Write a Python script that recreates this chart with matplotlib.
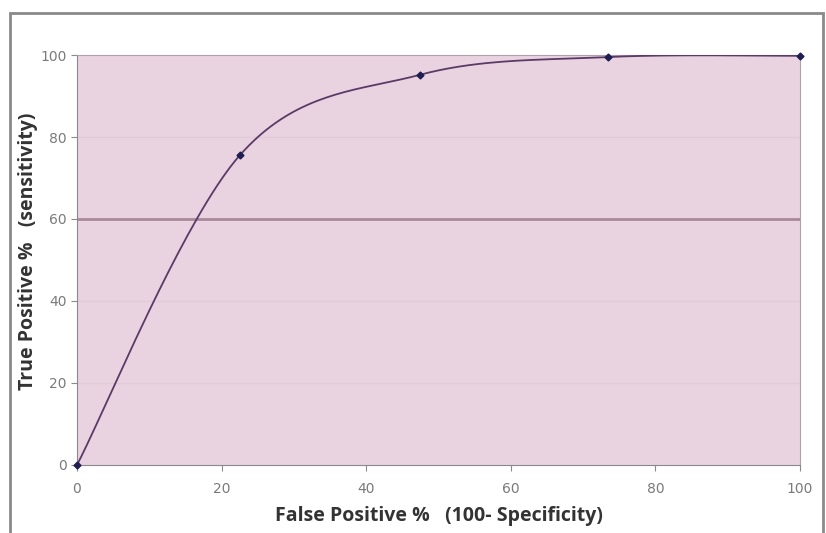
import numpy as np
import matplotlib
matplotlib.use('Agg')
import matplotlib.pyplot as plt
from matplotlib.patches import Rectangle

# ROC points
fp_rate = [0, 22.5, 47.5, 73.5, 100]
tp_rate = [0, 75.5, 95.2, 99.5, 99.8]
x_ticks = [0, 20, 40, 60, 80, 100]
y_ticks = [0, 20, 40, 60, 80, 100]


def smooth(xs, ys, n=40):
    # Excel-like smoothed line: cubic bezier with catmull-rom control points
    xs = np.asarray(xs, float)
    ys = np.asarray(ys, float)
    px = np.concatenate([[xs[0]], xs, [xs[-1]]])
    py = np.concatenate([[ys[0]], ys, [ys[-1]]])
    out_x, out_y = [], []
    t = np.linspace(0, 1, n)
    for i in range(1, len(px) - 2):
        p0 = np.array([px[i], py[i]])
        p3 = np.array([px[i + 1], py[i + 1]])
        c1 = p0 + (np.array([px[i + 1], py[i + 1]]) - np.array([px[i - 1], py[i - 1]])) / 6
        c2 = p3 - (np.array([px[i + 2], py[i + 2]]) - np.array([px[i], py[i]])) / 6
        b = ((1 - t) ** 3)[:, None] * p0 + (3 * (1 - t) ** 2 * t)[:, None] * c1 \
            + (3 * (1 - t) * t ** 2)[:, None] * c2 + (t ** 3)[:, None] * p3
        out_x.extend(b[:, 0])
        out_y.extend(b[:, 1])
    return out_x, out_y


fig = plt.figure(figsize=(8.26, 5.33), dpi=100)
fig.patches.append(Rectangle((10 / 826, -0.05), 813 / 826, 1.05 - 13 / 533,
                             transform=fig.transFigure, fill=False,
                             edgecolor='#8a8a8a', linewidth=2))

ax = fig.add_axes([0.0932, 0.1276, 0.8753, 0.7692])
ax.set_facecolor('#ead3e0')

for y in [20, 40, 80]:
    ax.axhline(y, color='#e3cad9', linewidth=1, zorder=1)
ax.axhline(60, color='#a8899b', linewidth=2, zorder=1)

sx, sy = smooth(fp_rate, tp_rate)
ax.plot(sx, sy, color='#5a3a66', linewidth=1.3, zorder=3)
ax.plot(fp_rate, tp_rate, linestyle='none', marker='D', markersize=3.5,
        color='#1e1e50', zorder=4, clip_on=False)

ax.set_xlim(0, 100)
ax.set_ylim(0, 100)
ax.set_xticks(x_ticks)
ax.set_yticks(y_ticks)
ax.tick_params(colors='#8a8a8a', labelcolor='#7a7a7a', labelsize=10,
               length=4, direction='out')
ax.tick_params(axis='x', pad=8)
for side in ['top', 'right']:
    ax.spines[side].set_color('#b0a0aa')
for side in ['left', 'bottom']:
    ax.spines[side].set_color('#8a8a8a')

ax.set_xlabel('False Positive %   (100- Specificity)', fontsize=14,
              fontweight='bold', color='#333333', family='Open Sans')
ax.set_ylabel('True Positive %   (sensitivity)', fontsize=14,
              fontweight='bold', color='#333333', family='Open Sans')
ax.xaxis.set_label_coords(0.5, -0.1)
ax.yaxis.set_label_coords(-0.054, 0.522)

fig.savefig('out.png', dpi=100)
